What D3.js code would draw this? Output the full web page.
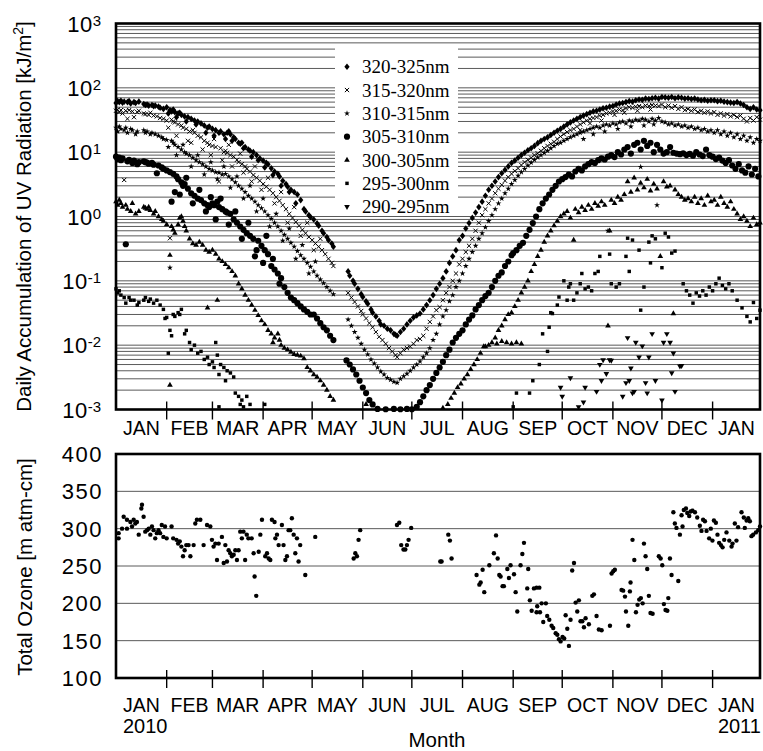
<!DOCTYPE html>
<html><head><meta charset="utf-8">
<script src="https://cdn.jsdelivr.net/npm/d3@7"></script>
<style>body{margin:0;background:#fff}svg{display:block}</style>
</head><body>
<svg id="c" width="763" height="751"></svg>
<script>
// ---------- DATA ----------
const seriesLabels = ["320-325nm","315-320nm","310-315nm","305-310nm","300-305nm","295-300nm","290-295nm"];
const monthLabels = ["JAN","FEB","MAR","APR","MAY","JUN","JUL","AUG","SEP","OCT","NOV","DEC","JAN"];
const yearLabels = ["2010","2011"];
const uvExponents = [-3,-2,-1,0,1,2,3];
const ozoneTicks = [100,150,200,250,300,350,400];

// [day since 2010-01-01, kJ/m2]
const uv320 = [[0,58],[1,62],[2,60],[3,63],[4,59],[5,61],[7,60],[8,62],[9,57],[11,60],[12,58],[14,61],[17,56],[18,54],[19,55],[20,53],[22,54],[23,52],[24,53],[26,51],[27,49],[29,47],
[31,50],[32,40],[33,45],[34,43],[35,46],[36,42],[37,35],[38,40],[39,41],[40,38],[42,36],[43,30],[44,35],[46,33],[48,31],[49,27],[50,30],[52,28],[54,26],[55,20],[56,24],[57,25],
[59,23],[60,18],[61,22],[63,20],[64,21],[66,19],[67,16],[68,20],[69,21],[70,19],[71,15],[72,17],[73,16],[75,14],[76,13.5],[77,14],[78,11.5],[79,12],[81,11],[82,10.5],[83,8.5],[84,10],[86,9],[87,7.5],[88,8],
[90,7.4],[91,5.8],[92,6.8],[93,6.5],[95,5.6],[96,4.4],[97,5],[99,4.6],[100,4.2],[101,3],[102,3.6],[104,3.2],[105,2.9],[106,2.4],[107,2.6],[109,2.4],[110,1.6],[111,2.2],[113,1.8],[115,1.3],[116,1.2],[118,1.05],[119,0.98],
[121,0.9],[123,0.78],[124,0.72],[126,0.6],[127,0.55],[129,0.48],[130,0.43],[132,0.38],[133,0.34],[142,0.14],[143,0.12],[145,0.1],[146,0.09],[148,0.075],[150,0.062],
[151,0.056],[153,0.048],[154,0.044],[156,0.036],[157,0.032],[159,0.028],[161,0.024],[162,0.021],[164,0.02],[166,0.018],[168,0.017],[170,0.015],[171,0.0145],[172,0.014],[174,0.016],[176,0.018],[178,0.021],[180,0.024],
[182,0.027],[184,0.029],[186,0.031],[188,0.036],[190,0.042],[192,0.05],[194,0.06],[196,0.075],[198,0.09],[200,0.11],[202,0.14],[204,0.19],[206,0.24],[208,0.3],[210,0.43],
[212,0.5],[214,0.65],[216,0.79],[218,0.95],[220,1.15],[222,1.4],[224,1.7],[226,2.1],[228,2.6],[230,3],[232,3.5],[234,4.1],[236,4.7],[238,5.3],[240,6],[242,6.8],
[244,7.4],[246,8.2],[248,9],[250,9.8],[252,10.7],[254,11.5],[256,12.5],[258,13.8],[260,15],[262,16],[264,17],[266,18.5],[268,20],[270,21.5],[272,23],
[274,25],[276,27],[278,29],[280,31],[282,33],[284,35],[286,37],[288,39],[290,41],[292,43],[294,44],[296,46],[298,48],[300,49],[302,51],
[304,52],[306,55],[308,57],[310,58],[312,60],[314,62],[316,61],[318,64],[320,66],[322,65],[324,68],[326,67],[328,69],[330,70],[332,68],
[334,72],[336,71],[338,70],[340,72],[342,69],[344,71],[346,70],[348,68],[350,69],[352,67],[354,68],[356,66],[358,64],[360,65],[362,63],[364,64],
[366,64],[368,62],[370,63],[372,61],[374,60],[376,59],[378,58],[380,60],[382,57],[384,54],[386,50],[388,47],[390,50],[392,46],[394,45]];

const uv315 = [[0,44],[1,46],[2,42],[3,45],[4,40],[5,3.7],[6,44],[7,33],[8,45],[10,43],[11,35],[13,42],[14,44],[17,40],[18,39],[20,38],[21,41],[23,37],[25,36],[27,34],[29,33],
[31,31],[32,24],[33,0.46],[34,32],[35,30],[36,29],[37,18],[38,27],[40,26],[41,24],[43,23],[44,15],[45,21],[46,14],[47,22],[48,20],[50,18],[52,17],[53,11],[54,15],[56,14],[57,13],[58,9],
[59,12.5],[60,16],[61,12],[63,3.5],[64,11.5],[65,7.5],[66,10],[67,10.5],[68,9.8],[69,13],[70,9],[71,6],[72,8.5],[74,7.6],[75,7],[76,9.5],[77,6.5],[78,4.8],[79,6],[80,5.5],[82,5],[83,3.5],[84,4.4],[85,6],[86,4],[88,3.6],[89,2.6],
[90,3.2],[92,2.9],[93,4],[94,2.6],[96,2.3],[97,1.6],[98,2],[100,1.75],[101,2.4],[102,1.5],[104,1.3],[105,0.8],[106,1.1],[108,0.95],[109,1.4],[110,0.82],[112,0.72],[113,0.5],[114,0.62],[116,0.55],[117,0.8],[118,0.48],
[120,0.43],[121,0.3],[122,0.38],[124,0.34],[125,0.45],[126,0.3],[128,0.26],[130,0.22],[132,0.19],[133,0.17],[142,0.065],[144,0.055],[146,0.047],[148,0.04],[150,0.034],
[151,0.03],[153,0.026],[155,0.022],[157,0.019],[159,0.016],[161,0.0135],[163,0.012],[165,0.0105],[167,0.009],[169,0.008],[171,0.007],[172,0.0065],[174,0.0075],[176,0.0085],[178,0.009],[180,0.0095],
[182,0.0105],[184,0.012],[186,0.0125],[188,0.014],[190,0.018],[192,0.023],[194,0.028],[196,0.035],[198,0.039],[200,0.05],[202,0.065],[204,0.08],[206,0.1],[208,0.13],[210,0.18],
[212,0.22],[214,0.28],[216,0.35],[218,0.45],[220,0.6],[222,0.8],[224,1.05],[226,1.3],[228,1.6],[230,1.9],[232,2.3],[234,2.7],[236,3.1],[238,3.6],[240,4.1],[242,4.6],
[244,5.1],[246,5.6],[248,6.3],[250,7],[252,7.6],[254,8.2],[256,9],[258,9.6],[260,10.5],[262,11.5],[264,12.5],[266,13.5],[268,14.5],[270,16],[272,17.5],
[274,19],[276,20.5],[278,22],[280,23],[282,25],[284,22],[284,27],[286,29],[288,31],[290,28],[290,33],[292,34],[294,35],[296,37],[297,31],[298,38],[300,40],[302,41],
[304,43],[305,38],[306,44],[308,46],[310,45],[311,41],[312,48],[314,50],[316,49],[318,51],[319,44],[320,52],[322,50],[324,53],[326,52],[327,46],[328,54],[330,53],[332,52],
[334,55],[336,50],[338,53],[340,49],[342,52],[344,47],[346,50],[348,45],[350,47],[352,44],[354,46],[356,42],[358,44],[360,41],[362,43],[364,40],
[366,42],[368,38],[370,40],[372,37],[374,39],[376,36],[378,38],[380,35],[382,37],[384,33],[386,30],[388,34],[390,31],[392,35],[394,32]];

const uv310 = [[0,24],[1,21],[2,25],[3,23],[5,22],[6,24],[7,20],[9,23],[10,22],[12,19],[13,21],[17,22],[18,20],[19,21],[21,19],[22,20],[24,19],[26,18],[28,17],[29,16],
[31,15.5],[32,12],[33,0.16],[34,15],[35,14],[36,13],[37,9],[38,12],[40,11],[41,13],[42,10],[43,9.5],[45,9],[46,6],[47,8.2],[49,7.5],[50,9],[51,7],[53,6.5],[54,4.5],[55,6],[57,5.5],[58,7],
[59,5.2],[61,4.9],[62,3.8],[63,4.8],[65,4.5],[66,6],[67,4.6],[69,4.2],[70,2.8],[71,3.8],[73,3.4],[74,4.2],[75,3],[77,2.7],[78,1.9],[79,2.4],[81,2.1],[82,3],[83,1.9],[85,1.7],[86,1.2],[87,1.5],[89,1.35],
[90,1.9],[91,1.2],[93,1.05],[94,0.7],[95,0.92],[97,0.8],[98,1.1],[99,0.7],[101,0.6],[102,0.42],[103,0.52],[105,0.45],[106,0.65],[107,0.39],[109,0.34],[110,0.22],[111,0.29],[113,0.25],[114,0.36],[115,0.22],[117,0.19],[118,0.13],[119,0.165],
[121,0.14],[122,0.2],[123,0.12],[125,0.105],[127,0.092],[129,0.08],[131,0.07],[133,0.062],[142,0.025],[144,0.02],[146,0.016],[148,0.013],[150,0.0105],
[152,0.0085],[154,0.0072],[156,0.006],[158,0.0052],[160,0.0045],[162,0.0039],[164,0.0035],[166,0.0031],[168,0.0029],[170,0.0027],[172,0.0026],[174,0.003],[176,0.0033],[178,0.0036],[180,0.004],
[182,0.0045],[184,0.005],[186,0.0056],[188,0.0065],[190,0.0075],[192,0.009],[194,0.012],[196,0.015],[198,0.021],[200,0.028],[202,0.035],[204,0.048],[206,0.06],[208,0.08],[210,0.1],
[212,0.13],[214,0.17],[216,0.22],[218,0.28],[220,0.35],[222,0.45],[224,0.55],[226,0.68],[228,0.85],[230,1.05],[232,1.3],[234,1.6],[236,1.9],[238,2.3],[240,2.7],[242,3.2],
[244,3.7],[246,4.3],[248,4.9],[250,5.5],[252,6.2],[254,6.9],[256,7.6],[258,8.3],[260,9],[262,9.8],[264,10.5],[266,11.5],[268,12.5],[270,13.5],[272,14],
[274,15],[276,16],[278,17],[280,18],[282,19],[284,20],[286,16],[286,21],[288,22],[290,23],[292,19],[292,24],[294,25],[296,24],[298,26],[299,21],[300,27],[301,0.6],[302,26],
[304,28],[306,27],[307,23],[308,29],[310,30],[312,28],[314,31],[315,25],[316,30],[318,32],[320,31],[321,5.9],[322,33],[323,26],[324,32],[326,30],[328,33],[329,27],[330,31],[331,1.5],[332,34],
[334,30],[336,29],[338,27],[340,28],[342,26],[344,27],[346,25],[348,26],[350,24],[352,25],[354,23],[356,24],[358,22],[360,23],[362,21],[364,22],
[366,20],[368,22],[370,19],[372,21],[374,18],[376,20],[378,17],[380,19],[382,16],[384,18],[386,15],[388,17],[390,14],[392,16],[394,15]];

const uv305 = [[0,8.5],[1,7.8],[2,8.2],[3,7.5],[4,8],[6,0.37],[7,7.2],[8,7.6],[10,6.8],[11,7.4],[13,6.5],[14,7],[17,7.2],[18,7],[19,6.9],[20,6.6],[22,6.8],[23,6.4],[25,4.7],[26,6.2],[28,5.8],[29,5.5],
[31,5.2],[33,4.9],[34,1.7],[35,4.6],[36,2.4],[37,4.2],[38,3.8],[39,2.2],[40,3.4],[41,3],[42,3.2],[43,4],[44,2.7],[46,2.3],[47,1.6],[48,2.1],[50,1.9],[51,2.6],[52,1.8],[54,1.6],[55,1.2],[56,1.5],[57,1.4],[58,2],
[59,1.6],[60,1.5],[61,0.9],[62,1.7],[63,1.4],[64,1.9],[65,1.3],[67,1.2],[68,1.15],[69,0.75],[70,1.1],[72,0.9],[73,1.2],[74,0.8],[76,0.7],[77,0.45],[78,0.62],[80,0.55],[81,0.8],[82,0.5],[84,0.45],[85,0.24],[86,0.3],[87,0.42],[89,0.35],
[90,0.19],[91,0.3],[92,0.5],[93,0.26],[95,0.17],[96,0.22],[97,0.15],[99,0.13],[100,0.09],[101,0.11],[103,0.08],[105,0.065],[107,0.055],[109,0.05],[111,0.045],[113,0.04],[115,0.036],[117,0.033],[119,0.03],
[121,0.03],[123,0.026],[125,0.022],[127,0.019],[129,0.017],[131,0.014],[133,0.012],[141,0.0058],[143,0.005],[145,0.0042],[147,0.0035],[149,0.0028],[151,0.0022],[153,0.0018],[155,0.0014],[157,0.0012],
[160,0.00102],[165,0.00101],[170,0.00102],[174,0.00101],[178,0.00102],[181,0.00101],[184,0.0011],
[186,0.0013],[188,0.0016],[190,0.002],[192,0.0024],[194,0.003],[196,0.0037],[198,0.0045],[200,0.0055],[202,0.007],[204,0.0085],[206,0.011],[208,0.013],[210,0.015],
[212,0.017],[214,0.021],[216,0.025],[218,0.029],[220,0.036],[222,0.042],[224,0.05],[226,0.058],[228,0.065],[230,0.08],[232,0.1],[234,0.12],[236,0.135],[238,0.17],[240,0.2],[242,0.25],
[243,0.27],[245,0.3],[247,0.35],[249,0.39],[251,0.5],[253,0.62],[255,0.79],[257,1.0],[259,1.3],[261,1.6],[263,1.9],[265,2.2],[267,2.6],[269,3.0],[271,3.5],
[273,3.8],[275,4.1],[277,4.5],[279,4.2],[281,5],[283,5.5],[285,5.2],[287,6],[289,6.5],[291,7],[293,6.8],[295,7.5],[297,8],[299,7.7],[301,8.5],
[303,9],[305,8.4],[307,10],[309,9.2],[311,11],[313,12],[315,9.5],[317,13],[319,14],[321,11],[323,15],[325,12.5],[327,14],[329,10],[331,13],
[333,11],[335,9.5],[337,10],[339,12],[341,9.8],[343,9.5],[345,9.3],[347,9.6],[349,9],[351,9.4],[353,8.8],[355,10],[357,9.2],[359,8.7],[361,11],[363,9],
[365,8.5],[367,7.8],[369,8.2],[371,7.4],[373,6.8],[375,7.5],[377,6.2],[379,5.5],[381,6.5],[383,5.2],[385,4.8],[387,6],[389,4.5],[391,5.5],[393,4.2]];

const uv300 = [[0,1.7],[1,1.5],[2,1.8],[3,1.6],[4,1.4],[6,1.5],[7,1.3],[9,1.2],[10,1.6],[12,1.1],[14,1.2],[17,1.4],[18,1.35],[19,1.3],[20,1.4],[21,1.25],[23,1.1],[24,1.2],[26,1.0],[28,0.9],[29,0.85],
[31,0.75],[33,0.25],[33,0.0024],[34,0.7],[35,0.62],[36,0.55],[38,0.75],[39,0.95],[40,1.0],[41,0.85],[42,0.7],[43,0.6],[45,0.45],[47,0.38],[49,0.36],[51,0.4],[53,0.36],[55,0.3],[56,0.038],[57,0.28],
[59,0.3],[61,0.26],[62,0.05],[63,0.22],[65,0.2],[67,0.18],[69,0.16],[71,0.14],[73,0.12],[75,0.09],[77,0.075],[79,0.06],[81,0.05],[83,0.042],[85,0.035],[87,0.029],[89,0.024],
[91,0.021],[93,0.017],[95,0.015],[96,0.011],[97,0.013],[99,0.015],[100,0.012],[101,0.01],[103,0.009],[105,0.0085],[107,0.0078],[109,0.0072],[111,0.007],[113,0.0068],[115,0.0062],[117,0.0045],[119,0.004],
[121,0.0035],[123,0.0032],[125,0.0028],[127,0.0024],[129,0.002],[131,0.0016],[133,0.0014],[153,0.0012],
[200,0.00105],[203,0.0012],[205,0.0015],[207,0.0018],[209,0.0022],[211,0.0025],[213,0.003],[215,0.0035],[217,0.0042],[219,0.005],[221,0.006],[223,0.0075],[225,0.0095],[226,0.0095],[228,0.01],[230,0.011],[232,0.013],[233,0.0105],[234,0.017],[236,0.02],[236,0.0115],[238,0.025],[239,0.011],[240,0.03],[242,0.032],[242,0.0105],[244,0.04],[245,0.011],[246,0.05],[248,0.065],[248,0.0105],[250,0.08],[252,0.1],[254,0.14],[256,0.18],[258,0.24],[260,0.3],[262,0.4],[264,0.5],[266,0.6],[268,0.72],[270,0.85],[272,1.0],
[274,1.1],[276,1.2],[278,0.95],[280,0.43],[281,1.3],[283,1.15],[285,1.4],[287,1.25],[289,1.5],[291,1.3],[293,1.6],[295,1.45],[297,1.7],[299,1.5],[301,0.02],[302,0.6],
[303,1.8],[305,1.6],[307,2.0],[309,1.8],[311,2.2],[313,3.5],[315,2.4],[317,4.0],[319,2.6],[321,3.3],[323,2.8],[325,3.8],[327,2.5],[329,3.2],[331,2.7],[333,0.24],
[335,3.5],[337,2.9],[339,3.0],[341,0.031],[342,2.6],[344,2.2],[346,2.0],[348,1.8],[350,1.9],[352,1.7],[354,2.0],[356,1.6],[358,1.9],[360,1.5],[362,2.1],[364,1.7],
[366,1.8],[368,1.5],[370,2.0],[372,1.6],[374,1.4],[376,1.7],[378,1.3],[380,1.1],[382,0.9],[384,1.0],[386,0.85],[388,0.7],[390,0.95],[392,0.75],[394,0.8]];

const uv295 = [[0,0.075],[1,0.065],[2,0.07],[3,0.06],[5,0.055],[6,0.045],[8,0.055],[9,0.05],[11,0.05],[13,0.042],[14,0.046],[17,0.05],[18,0.055],[20,0.048],[21,0.052],[23,0.045],[25,0.05],[27,0.042],[29,0.036],
[30,0.026],[31,0.027],[32,0.0075],[33,0.017],[34,0.014],[35,0.03],[36,0.028],[38,0.032],[39,0.03],[40,0.036],[42,0.015],[43,0.017],[45,0.011],[46,0.0085],[48,0.01],[50,0.0075],[52,0.008],[54,0.006],[56,0.0065],[57,0.005],
[59,0.0055],[60,0.0045],[61,0.011],[62,0.007],[63,0.0035],[63,0.0011],[64,0.005],[66,0.0045],[67,0.0028],[68,0.004],[70,0.0037],[72,0.0032],[73,0.0018],[75,0.0016],[76,0.0012],[77,0.0014],[78,0.0011],[80,0.0016],[82,0.0012],[91,0.0012],
[243,0.0011],[245,0.0018],[253,0.0018],[255,0.0028],[259,0.005],[261,0.015],[264,0.008],[265,0.019],[266,0.032],[267,0.031],[270,0.042],[271,0.056],[274,0.1],[276,0.05],[277,0.08],[278,0.09],[280,0.05],[282,0.065],[284,0.09],[285,0.13],[287,0.075],[289,0.08],[291,0.07],[293,0.13],[295,0.14],[296,0.24],
[302,0.26],[303,0.09],[306,0.08],[308,0.09],[312,0.24],[313,0.46],[314,0.14],[316,0.43],[320,0.3],[321,0.035],[323,0.08],[326,0.4],[327,0.19],[328,0.5],[330,0.45],[334,0.16],[336,0.55],[338,0.48],[340,0.27],[342,0.29],
[347,0.09],[349,0.07],[351,0.06],[353,0.045],[355,0.065],[357,0.058],[359,0.07],[361,0.06],[363,0.08],[365,0.07],[367,0.09],[369,0.11],[371,0.085],[373,0.075],[375,0.09],[377,0.07],[380,0.05],[383,0.038],[386,0.028],[388,0.023],[390,0.046],[392,0.026],[394,0.035]];

const uv290 = [[272,0.0022],[273,0.0016],[278,0.0031],[283,0.0011],[286,0.0013],[287,0.0022],[294,0.0019],[296,0.005],[297,0.0028],[298,0.0059],[300,0.0036],[302,0.0059],[303,0.0058],
[310,0.0016],[312,0.0026],[313,0.013],[314,0.0028],[315,0.0044],[316,0.0018],[317,0.0019],[318,0.011],[320,0.0065],[322,0.0097],[324,0.0026],[325,0.0018],[326,0.0065],[328,0.015],[330,0.0028],
[334,0.0014],[335,0.011],[337,0.015],[339,0.011],[340,0.0037],[341,0.0075],[342,0.0019],[345,0.0047],[346,0.0048]];

// [day since 2010-01-01, m atm-cm]
const ozone = [[1.6,287],[1.6,294],[3.7,300],[4.7,316],[6.7,312],[6.7,300],[8.8,309],[9.8,303],[10.8,312],[11.8,307],[12.8,309],[13.9,292],[15.5,327],[15.9,332],[16.9,316],[17.9,296],[19,298],[20,300],[21,292],[22,303],[23,298],[24,287],[25,294],[26,298],[27,294],[28,305],[29,289],[30,303],[31,287],[34,303],[35,287],[37,285],[38,280],[39,283],[40,276],[41,263],[42,271],[43,278],[44.4,278],[45.5,263],[47.5,278],[48.5,307],[49.5,312],[51.6,312],[53.6,278],[55.7,305],[57.7,303],[58.7,285],[59.7,276],[60.8,280],[61.8,258],[62.8,280],[64.8,289],[65.9,254],[66.9,278],[67.9,256],[68.9,271],[69.9,267],[70.9,263],[72,265],[73,271],[74,258],[75,271],[76,296],[77,287],[78,296],[79,258],[80,292],[81,287],[83,287],[84.2,267],[84.8,236],[85.8,210],[87.3,269],[88.3,292],[89.3,312],[91.3,263],[92.4,267],[93.4,260],[94.4,258],[95.4,312],[97,309],[97.5,287],[98.5,292],[99.5,278],[101.5,305],[102.5,278],[103.6,258],[104.6,263],[105.6,298],[106.6,298],[107.6,314],[108.7,292],[109.7,267],[110.7,287],[111.7,256],[112.7,278],[115.8,238],[121.9,289],
[145.4,260],[146.4,267],[147.4,263],[148.4,285],[149.4,298],[171.9,305],[173.3,308],[174.5,278],[175.9,272],[177,272],[178,278],[179,285],[180.6,301],[198.4,256],[199.2,256],[203.3,292],[204.3,284],[205.3,260],
[220.6,238],[222.3,225],[223.1,228],[224.3,245],[225.3,215],[228.4,251],[231.2,267],[232.5,291],[233.5,260],[234.5,238],[235.3,236],[236.5,223],[237.3,223],[239.4,246],[240.4,234],[241.4,251],[243.5,239],[244.5,215],[245.5,189],[247.5,251],[248.6,266],[249.6,281],[251.6,220],[252.2,246],[253.2,204],[254.3,190],[255.7,220],[257.3,221],[259,221],[257.7,196],[257.3,188],[259.4,188],[260.4,200],[261.4,175],[263,200],[263.8,183],[265.1,178],[266.5,170],[267.5,167],[269,160],[270,158],[271,152],[272,149],[273.2,155],[274.2,153],[277.1,143],[275.1,184],[276.1,166],[278.1,178],[279.1,244],[280.2,254],[281.2,201],[283.2,204],[282.2,189],[284.2,176],[285.3,176],[286.3,168],[287.3,180],[289.3,172],[291.4,210],[292.4,212],[294,183],[295.4,165],[297.1,164],
[302.2,170],[303.2,240],[304.2,243],[305.2,245],[309.3,218],[310.3,217],[311.4,209],[312,189],[313.4,170],[314.4,216],[314.8,228],[316,285],[317.1,258],[318.1,188],[319.1,198],[320.1,205],[321.1,207],[322.2,200],[323,280],[324,263],[325,246],[326,210],[327,187],[328.3,186],[332.1,263],[333.2,260],[334.2,251],[335.2,199],[336.2,191],[337.3,190],[337.9,207],[338.9,260],[339.9,238],[344,230],
[341,322],[341.9,307],[342.9,301],[345,292],[346.6,303],[346,318],[347.4,325],[348.7,327],[349.5,321],[350.7,317],[351.5,323],[352.7,324],[354.2,322],[355.6,315],[357.2,304],[358.2,297],[359.2,312],[360.3,310],[361.3,297],[362.9,287],[363.9,300],[364.9,284],[365.8,311],[367,308],[368,292],[369,281],[370.1,278],[371.1,275],[372.1,285],[373.5,295],[375.2,284],[376.6,276],[377.2,280],[379.6,284],[378.6,307],[380.6,302],[382.7,322],[384.1,315],[385.8,311],[384.7,301],[386.8,314],[387.8,310],[388.8,290],[389.8,292],[391.5,295],[392.9,298],[394,303]];

// ---------- CHART ----------
const SANS = "'Liberation Sans', Arial, Helvetica, sans-serif";
const SERIF = "'Liberation Serif', 'Times New Roman', serif";
const svg = d3.select("#c");
const t0 = Date.UTC(2010,0,1);
const dayDate = d => new Date(t0 + d*864e5);
const x = d3.scaleUtc().domain([dayDate(0), dayDate(394)]).range([116,760]);
const yUV = d3.scaleLog().domain([1e-3,1e3]).range([409.5,23.5]);
const yOz = d3.scaleLinear().domain([100,400]).range([678,454]);

// custom symbol types
const symDiamond = {draw(c,s){const r=Math.sqrt(s);c.moveTo(0,-r);c.lineTo(r*0.8,0);c.lineTo(0,r);c.lineTo(-r*0.8,0);c.closePath();}};
const symTimes = {draw(c,s){const r=Math.sqrt(s);c.moveTo(-r,-r);c.lineTo(r,r);c.moveTo(r,-r);c.lineTo(-r,r);}};
const symTriDown = {draw(c,s){const h=Math.sqrt(s/(Math.sqrt(3)*3));c.moveTo(0,2*h);c.lineTo(-Math.sqrt(3)*h,-h);c.lineTo(Math.sqrt(3)*h,-h);c.closePath();}};

const series = [
  {data:uv320, type:symDiamond, size:11, stroke:false},
  {data:uv315, type:symTimes, size:4.5, stroke:true},
  {data:uv310, type:d3.symbolStar, size:11, stroke:false},
  {data:uv305, type:d3.symbolCircle, size:30, stroke:false},
  {data:uv300, type:d3.symbolTriangle, size:14, stroke:false},
  {data:uv295, type:d3.symbolSquare, size:12, stroke:false},
  {data:uv290, type:symTriDown, size:14, stroke:false}
];

// top panel grid
const gridVals = [];
for (let k=-3;k<3;k++) for (let m=1;m<10;m++){ if(k===-3&&m===1) continue; gridVals.push(m*Math.pow(10,k)); }
svg.append("g").selectAll("line").data(gridVals).join("line")
  .attr("x1",116).attr("x2",760).attr("y1",d=>yUV(d)).attr("y2",d=>yUV(d))
  .attr("stroke","#5a5a5a").attr("stroke-width",1);

// points top
const gp = svg.append("g");
series.slice().reverse().forEach(s=>{
  const sym = d3.symbol().type(s.type).size(s.size);
  gp.append("g").selectAll("path").data(s.data).join("path")
    .attr("transform",d=>`translate(${x(dayDate(d[0]))},${yUV(d[1])})`)
    .attr("d",sym)
    .attr("fill", s.stroke?"none":"#000")
    .attr("stroke", s.stroke?"#000":"none")
    .attr("stroke-width", 1);
});

// legend
const lg = svg.append("g");
lg.append("rect").attr("x",335).attr("y",45).attr("width",123).attr("height",169).attr("fill","#fff");
series.forEach((s,i)=>{
  const yy = 66.7 + i*23.33;
  lg.append("path").attr("transform",`translate(347,${yy})`)
    .attr("d", d3.symbol().type(s.type).size(s.size))
    .attr("fill", s.stroke?"none":"#000").attr("stroke", s.stroke?"#000":"none").attr("stroke-width",1);
  lg.append("text").attr("x",362).attr("y",yy+6.5).text(seriesLabels[i])
    .attr("font-family",SERIF).attr("font-size",19).attr("fill","#000");
});

// bottom panel grid
svg.append("g").selectAll("line").data(ozoneTicks.slice(1,-1)).join("line")
  .attr("x1",116).attr("x2",760).attr("y1",d=>yOz(d)).attr("y2",d=>yOz(d))
  .attr("stroke","#5a5a5a").attr("stroke-width",1);

svg.append("g").selectAll("circle").data(ozone).join("circle")
  .attr("cx",d=>x(dayDate(d[0]))).attr("cy",d=>yOz(d[1])).attr("r",2.2).attr("fill","#000");

// frames
[[23.5,409.5],[454,678]].forEach(([t,b])=>{
  svg.append("rect").attr("x",116).attr("y",t).attr("width",644).attr("height",b-t)
    .attr("fill","none").attr("stroke","#000").attr("stroke-width",2.6);
});

// month ticks & labels
const monthStarts = d3.utcMonth.range(dayDate(1), dayDate(394));
const bounds = [dayDate(0), ...monthStarts, dayDate(394)];
[409.5, 678].forEach((yb,pi)=>{
  svg.append("g").selectAll("line").data(monthStarts).join("line")
    .attr("x1",d=>x(d)).attr("x2",d=>x(d)).attr("y1",yb-8).attr("y2",yb+10)
    .attr("stroke","#000").attr("stroke-width",1.4);
  const lbl = svg.append("g").selectAll("text").data(monthLabels).join("text")
    .attr("x",(d,i)=>(x(bounds[i])+x(bounds[i+1]))/2)
    .attr("y", pi===0?435:712)
    .attr("text-anchor","middle").attr("font-family",SANS).attr("font-size",19.5)
    .attr("fill","#000").text(d=>d);
  if(pi===1){
    const nodes = lbl.nodes();
    [[0,yearLabels[0]],[nodes.length-1,yearLabels[1]]].forEach(([idx,yl])=>{
      const n = nodes[idx];
      const w = n.getComputedTextLength();
      const cx = +n.getAttribute("x");
      svg.append("text").attr("x",cx-w/2).attr("y",733).attr("font-family",SANS)
        .attr("font-size",20).attr("fill","#000").text(yl);
    });
  }
});

// top y tick labels
const ytl = svg.append("g").selectAll("text").data(uvExponents).join("text")
  .attr("x",101).attr("y",d=>yUV(Math.pow(10,d))+8).attr("text-anchor","end")
  .attr("font-family",SANS).attr("font-size",22).attr("fill","#000");
ytl.append("tspan").text("10").attr("letter-spacing",0.5);
ytl.append("tspan").text(d=>String(d)).attr("font-size",15).attr("dy",-6);

// bottom y tick labels
svg.append("g").selectAll("text").data(ozoneTicks).join("text")
  .attr("x",103).attr("y",d=>yOz(d)+8).attr("text-anchor","end")
  .attr("font-family",SANS).attr("font-size",22).attr("letter-spacing",1.5).attr("fill","#000").text(d=>d);

// axis titles
const t1 = svg.append("text").attr("transform","translate(30.5,216.5) rotate(-90)")
  .attr("text-anchor","middle").attr("font-family",SANS).attr("font-size",20.5).attr("fill","#000");
t1.append("tspan").text("Daily Accumulation of UV Radiation [kJ/m");
t1.append("tspan").text("2").attr("font-size",14).attr("dy",-8);
t1.append("tspan").text("]").attr("dy",8);
svg.append("text").attr("transform","translate(31.5,567) rotate(-90)")
  .attr("text-anchor","middle").attr("font-family",SANS).attr("font-size",20.5).attr("fill","#000")
  .text("Total Ozone [m atm-cm]");
svg.append("text").attr("x",437).attr("y",747).attr("text-anchor","middle")
  .attr("font-family",SANS).attr("font-size",20.5).attr("fill","#000").text("Month");
</script>
</body></html>
